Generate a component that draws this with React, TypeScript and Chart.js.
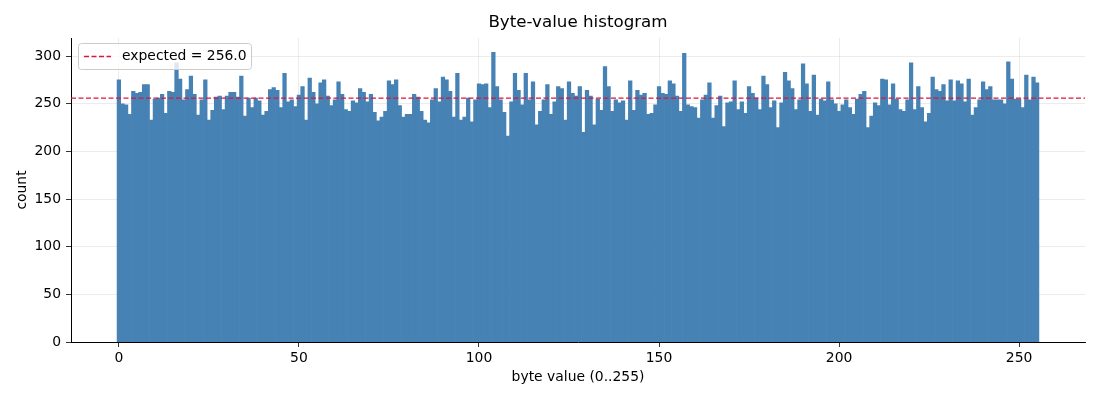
import React, { useEffect, useRef } from 'react';
import { Chart, registerables } from 'chart.js';

Chart.register(...registerables);

// counts per byte value
const COUNTS = [
  275, 250, 249, 239, 263, 261, 262, 270, 270, 233, 255, 256, 260, 240, 263, 262,
  293, 276, 254, 265, 279, 260, 238, 254, 275, 233, 243, 257, 258, 244, 258, 262,
  262, 257, 279, 237, 256, 246, 256, 253, 238, 242, 265, 267, 264, 246, 282, 252,
  254, 247, 259, 268, 233, 277, 262, 250, 272, 275, 258, 248, 254, 273, 260, 244,
  242, 253, 251, 266, 262, 252, 260, 241, 232, 236, 242, 274, 270, 275, 248, 236,
  239, 239, 260, 257, 242, 233, 230, 254, 266, 252, 278, 275, 263, 236, 282, 233,
  236, 256, 231, 254, 271, 270, 271, 246, 304, 268, 254, 241, 216, 252, 282, 264,
  249, 282, 254, 273, 228, 242, 254, 270, 239, 252, 268, 266, 233, 273, 261, 258,
  268, 220, 264, 258, 228, 255, 243, 289, 268, 242, 254, 251, 253, 233, 274, 243,
  264, 259, 261, 239, 240, 249, 268, 261, 260, 274, 271, 258, 242, 303, 249, 247,
  246, 235, 254, 259, 272, 235, 248, 258, 226, 251, 252, 274, 244, 252, 240, 268,
  261, 256, 244, 279, 270, 246, 253, 225, 251, 283, 274, 266, 244, 254, 292, 271,
  242, 280, 238, 255, 253, 273, 254, 250, 242, 249, 254, 246, 239, 255, 260, 263,
  225, 237, 251, 248, 276, 275, 249, 271, 255, 244, 242, 254, 293, 244, 268, 246,
  231, 240, 278, 265, 263, 270, 253, 275, 253, 274, 271, 252, 276, 238, 246, 254,
  273, 265, 268, 254, 254, 254, 250, 294, 276, 255, 255, 246, 280, 254, 278, 272,
];
const BYTE_VALUES = COUNTS.map((_, i) => i);
const EXPECTED = 256;

const X_TICKS = [0, 50, 100, 150, 200, 250];
const Y_TICKS = [0, 50, 100, 150, 200, 250, 300];

const TITLE = 'Byte-value histogram';
const X_LABEL = 'byte value (0..255)';
const Y_LABEL = 'count';
const LEGEND_LABEL = `expected = ${EXPECTED.toFixed(1)}`;

const FONT = '"DejaVu Sans", sans-serif';
const BAR_COLOR = '#4682b4';
const LINE_COLOR = '#dc143c';

// title, axis labels, the expected-value line and the legend box
const decorations = {
  id: 'decorations',
  afterDraw(chart: any) {
    const { ctx, chartArea: a, scales } = chart;
    const cx = (a.left + a.right) / 2;
    const yExp = scales.y.getPixelForValue(EXPECTED);

    ctx.save();
    ctx.strokeStyle = LINE_COLOR;
    ctx.lineWidth = 1.3;
    ctx.setLineDash([5, 2.5]);
    ctx.beginPath();
    ctx.moveTo(a.left, yExp);
    ctx.lineTo(a.right, yExp);
    ctx.stroke();
    ctx.setLineDash([]);

    ctx.fillStyle = '#000';
    ctx.textAlign = 'center';
    ctx.textBaseline = 'middle';
    ctx.font = `16.7px ${FONT}`;
    ctx.fillText(TITLE, cx, 23);
    ctx.font = `13.9px ${FONT}`;
    ctx.fillText(X_LABEL, cx, 377);
    ctx.save();
    ctx.translate(22, (a.top + a.bottom) / 2);
    ctx.rotate(-Math.PI / 2);
    ctx.fillText(Y_LABEL, 0, 0);
    ctx.restore();

    // legend
    ctx.beginPath();
    ctx.roundRect(78.5, 43.5, 173, 26, 3);
    ctx.fillStyle = 'rgba(255,255,255,0.8)';
    ctx.fill();
    ctx.strokeStyle = '#cccccc';
    ctx.lineWidth = 1;
    ctx.stroke();

    ctx.strokeStyle = LINE_COLOR;
    ctx.lineWidth = 1.3;
    ctx.setLineDash([5, 2.5]);
    ctx.beginPath();
    ctx.moveTo(84, 56.5);
    ctx.lineTo(111, 56.5);
    ctx.stroke();
    ctx.setLineDash([]);

    ctx.fillStyle = '#000';
    ctx.textAlign = 'left';
    ctx.font = `13.9px ${FONT}`;
    ctx.fillText(LEGEND_LABEL, 122, 56.5);
    ctx.restore();
  },
};

const App: React.FC = () => {
  const canvasRef = useRef<HTMLCanvasElement | null>(null);

  useEffect(() => {
    document.body.style.margin = '0';
    if (!canvasRef.current) return;

    const gridStyle = {
      color: 'rgba(176,176,176,0.3)',
      lineWidth: 0.8,
      tickColor: '#000',
      tickLength: 5,
    };
    const tickFont = { family: FONT, size: 13.9 };

    const chart = new Chart(canvasRef.current, {
      type: 'bar',
      data: {
        datasets: [
          {
            data: COUNTS.map((c, i) => ({ x: BYTE_VALUES[i], y: c })),
            backgroundColor: BAR_COLOR,
            borderWidth: 0,
            barPercentage: 1,
            categoryPercentage: 1,
          },
        ],
      },
      options: {
        animation: false,
        responsive: false,
        devicePixelRatio: 1,
        layout: { padding: { top: 38, right: 15, left: 0, bottom: 0 } },
        plugins: {
          legend: { display: false },
          title: { display: false },
          tooltip: { enabled: false },
        },
        scales: {
          x: {
            type: 'linear',
            min: -13.3,
            max: 268.3,
            offset: false,
            z: 1,
            grid: { ...gridStyle, offset: false },
            border: { display: true, color: '#000', width: 1 },
            ticks: { color: '#000', font: tickFont, padding: 3 },
            afterBuildTicks: (scale: any) => {
              scale.ticks = X_TICKS.map((v) => ({ value: v }));
            },
            afterFit: (scale: any) => {
              scale.height = 58;
            },
          },
          y: {
            type: 'linear',
            min: 0,
            max: 319,
            z: 1,
            grid: gridStyle,
            border: { display: true, color: '#000', width: 1 },
            ticks: { color: '#000', font: tickFont, padding: 5 },
            afterBuildTicks: (scale: any) => {
              scale.ticks = Y_TICKS.map((v) => ({ value: v }));
            },
            afterFit: (scale: any) => {
              scale.width = 71;
            },
          },
        },
      },
      plugins: [decorations],
    });

    return () => {
      chart.destroy();
    };
  }, []);

  return (
    <div style={{ width: 1100, height: 400, background: '#fff' }}>
      <canvas ref={canvasRef} width={1100} height={400} />
    </div>
  );
};

export default App;
